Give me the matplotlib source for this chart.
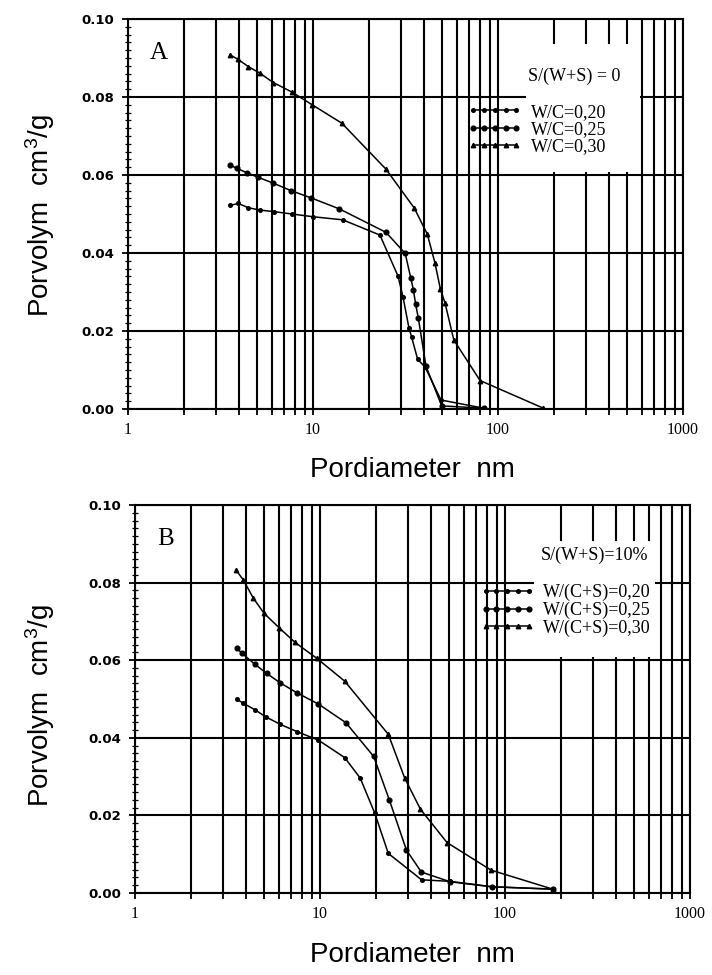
import matplotlib
matplotlib.use("Agg")
import matplotlib.pyplot as plt
from matplotlib.patches import Rectangle
from matplotlib.ticker import LogLocator, MultipleLocator, FixedLocator, FuncFormatter, NullFormatter
import numpy as np

plt.rcParams['mathtext.default'] = 'regular'

# ---------------- data ----------------
# Panel A : S/(W+S) = 0
a_x20 = [3.56, 3.95, 4.47, 5.2, 6.15, 7.7, 10.0, 14.5, 23.0, 28.8, 30.7, 33.0, 34.1, 36.8, 40.3, 49.2, 84]
a_y20 = [0.0522, 0.0527, 0.0516, 0.0510, 0.0506, 0.0500, 0.0493, 0.0485, 0.0446, 0.0341, 0.0286,
         0.0208, 0.0185, 0.0127, 0.0108, 0.0023, 0.0002]
a_x25 = [3.56, 3.87, 4.38, 5.06, 6.1, 7.6, 9.8, 13.9, 24.8, 31.5, 33.8, 34.9, 35.9, 37.1, 40.8, 49.6, 84]
a_y25 = [0.0626, 0.0617, 0.0606, 0.0594, 0.0579, 0.0560, 0.0541, 0.0513, 0.0453, 0.0399, 0.0335,
         0.0305, 0.0268, 0.0233, 0.0110, 0.0008, 0.0002]
a_x30 = [3.56, 3.92, 4.47, 5.17, 6.1, 7.67, 9.9, 14.3, 24.8, 35.3, 41.5, 45.6, 48.8, 51.7, 57.7, 80, 176]
a_y30 = [0.0908, 0.0897, 0.0878, 0.0861, 0.0837, 0.0813, 0.0780, 0.0733, 0.0615, 0.0515, 0.0448,
         0.0375, 0.0308, 0.0272, 0.0177, 0.0073, 0.0002]

# Panel B : S/(W+S) = 10%
b_x20 = [3.54, 3.85, 4.46, 5.09, 6.08, 7.5, 9.8, 13.6, 16.5, 19.8, 23.4, 35.4, 50.5, 85, 181]
b_y20 = [0.0500, 0.0489, 0.0472, 0.0454, 0.0435, 0.0416, 0.0394, 0.0349, 0.0296, 0.0205, 0.0102,
         0.0034, 0.0030, 0.0016, 0.0010]
b_x25 = [3.54, 3.78, 4.46, 5.15, 6.08, 7.5, 9.8, 13.8, 19.5, 23.7, 29.3, 35.3, 50.5, 85, 181]
b_y25 = [0.0632, 0.0618, 0.0589, 0.0566, 0.0542, 0.0516, 0.0487, 0.0439, 0.0352, 0.0240, 0.0111,
         0.0054, 0.0029, 0.0016, 0.0010]
b_x30 = [3.52, 3.85, 4.36, 4.98, 6.0, 7.32, 9.6, 13.6, 23.4, 28.7, 34.9, 48.6, 84, 181]
b_y30 = [0.0832, 0.0807, 0.0760, 0.0721, 0.0684, 0.0646, 0.0605, 0.0546, 0.0409, 0.0296, 0.0216,
         0.0130, 0.0059, 0.0010]

labels_a = ["W/C=0,20", "W/C=0,25", "W/C=0,30"]
labels_b = ["W/(C+S)=0,20", "W/(C+S)=0,25", "W/(C+S)=0,30"]
title_a = "S/(W+S) = 0"
title_b = "S/(W+S)=10%"
x_ticks = [1, 10, 100, 1000]
x_ticklabels = ["1", "10", "100", "1000"]
y_ticks = [0.00, 0.02, 0.04, 0.06, 0.08, 0.10]

xlabel = "Pordiameter  nm"
ylabel = "Porvolym  cm$^{3}$/g"

# ---------------- figure ----------------
W, H = 712, 975
fig = plt.figure(figsize=(W / 100, H / 100), dpi=100)

serif = "Liberation Serif"
sans = "Liberation Sans"

styles = [dict(marker='o', ms=2.6), dict(marker='o', ms=3.4), dict(marker='^', ms=3.2)]


def make_panel(rect, series, labels, title, letter, box_x, frag_x, frag_y, leg_anchor, title_xy, hline_x):
    ax = fig.add_axes(rect)
    ax.set_xscale('log')
    ax.set_xlim(1, 1000)
    ax.set_ylim(0, 0.1)
    ax.set_axisbelow(True)

    ax.xaxis.set_major_locator(FixedLocator(x_ticks))
    ax.xaxis.set_minor_locator(LogLocator(base=10, subs=np.arange(2, 10)))
    ax.xaxis.set_major_formatter(FuncFormatter(
        lambda v, p: x_ticklabels[x_ticks.index(int(round(v)))] if int(round(v)) in x_ticks else ""))
    ax.xaxis.set_minor_formatter(NullFormatter())
    ax.yaxis.set_major_locator(FixedLocator(y_ticks))
    ax.yaxis.set_minor_locator(MultipleLocator(0.002))
    ax.yaxis.set_major_formatter(FuncFormatter(lambda v, p: f"{v:.2f}"))

    ax.grid(True, which='both', axis='x', color='black', lw=1.5)
    ax.grid(True, which='major', axis='y', color='black', lw=1.5)

    ax.tick_params(axis='both', which='major', direction='inout', length=8, width=1.3,
                   top=False, right=False, color='black')
    ax.tick_params(axis='y', which='minor', direction='inout', length=4, width=0.9, right=False)
    ax.tick_params(axis='x', which='minor', direction='inout', length=8, width=1.3, top=False)
    for lab in ax.get_yticklabels():
        lab.set_fontfamily('DejaVu Sans')
        lab.set_fontweight('bold')
        lab.set_fontsize(9.5)
    for lab in ax.get_xticklabels():
        lab.set_fontfamily(serif)
        lab.set_fontsize(11.5)
    ax.tick_params(axis='x', pad=5)
    ax.tick_params(axis='y', pad=6)

    for s in ax.spines.values():
        s.set_linewidth(1.5)

    # white-out box for legend area
    ax.add_patch(Rectangle((box_x[0], 0.0607), box_x[1] - box_x[0], 0.1 - 0.0607,
                           facecolor='white', edgecolor='none', zorder=1.2))
    for fx in frag_x:
        ax.plot([fx, fx], [frag_y, 0.1], color='black', lw=1.5, zorder=1.3)
    ax.plot([box_x[0], hline_x], [0.08, 0.08], color='black', lw=1.5, zorder=1.3)

    handles = []
    for (x, y), st in zip(series, styles):
        h, = ax.plot(x, y, color='black', lw=1.1, mfc='black', mec='black', zorder=3, **st)
        handles.append(h)

    leg = ax.legend(handles, labels, loc='upper left', bbox_to_anchor=leg_anchor,
                    frameon=False, handlelength=3.0, numpoints=5, borderpad=0, borderaxespad=0,
                    labelspacing=0.02, handletextpad=0.5,
                    prop=dict(family=serif, size=13))
    leg.set_zorder(4)

    ax.text(title_xy[0], title_xy[1], title, transform=ax.transData, ha='left', va='center',
            family=serif, fontsize=13, zorder=4)
    ax.text(0.04, 0.94, letter, transform=ax.transAxes, ha='left', va='top',
            family=serif, fontsize=18, zorder=4)
    return ax


axA = make_panel([128 / W, 1 - 409 / H, 555 / W, 390 / H],
                 [(a_x20, a_y20), (a_x25, a_y25), (a_x30, a_y30)], labels_a, title_a, "A",
                 box_x=(103, 588), frag_x=[200, 300, 400, 500], frag_y=0.0938,
                 leg_anchor=(0.612, 0.783), title_xy=(146, 0.0854), hline_x=140)

axB = make_panel([135 / W, 1 - 893 / H, 555 / W, 388 / H],
                 [(b_x20, b_y20), (b_x25, b_y25), (b_x30, b_y30)], labels_b, title_b, "B",
                 box_x=(103, 650), frag_x=[200, 300, 400, 500, 600], frag_y=0.091,
                 leg_anchor=(0.622, 0.796), title_xy=(157, 0.0871), hline_x=142)

fig.text(40 / W, 1 - 215 / H, ylabel, rotation=90, ha='center', va='center', family=sans, fontsize=20)
fig.text(40 / W, 1 - 705 / H, ylabel, rotation=90, ha='center', va='center', family=sans, fontsize=20)
fig.text(412 / W, 1 - 470 / H, xlabel, ha='center', va='center', family=sans, fontsize=20)
fig.text(412 / W, 1 - 955 / H, xlabel, ha='center', va='center', family=sans, fontsize=20)

fig.savefig("out.png", dpi=100)
